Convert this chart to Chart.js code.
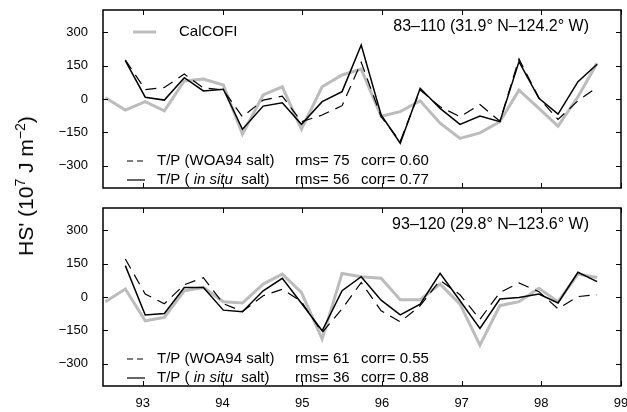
<!DOCTYPE html>
<html>
<head>
<meta charset="utf-8">
<script src="https://cdn.jsdelivr.net/npm/chart.js@4.4.1/dist/chart.umd.min.js"></script>
<style>
body { margin: 0; background: #fff; width: 627px; height: 412px; position: relative; overflow: hidden; font-family: "Liberation Sans", Arial, sans-serif; }
canvas { position: absolute; left: 0; }
#topPanel { top: 0; }
#botPanel { top: 198px; }
#ylab { position: absolute; left: 25px; top: 186px; transform: translate(-50%, -50%) rotate(-90deg); white-space: nowrap; font-size: 21px; color: #000; }
#ylab sup { font-size: 14px; }
</style>
</head>
<body>
<canvas id="topPanel" width="627" height="200"></canvas>
<canvas id="botPanel" width="627" height="214"></canvas>
<div id="ylab">HS' (10<sup>7</sup> J m<sup>−2</sup>)</div>
<script>
// cruise times (decimal year), shared by the T/P series
const cruiseYears = [92.78, 93.03, 93.27, 93.52, 93.76, 94.01, 94.25, 94.51, 94.75, 94.99, 95.25, 95.50, 95.74,
                     95.99, 96.23, 96.48, 96.73, 96.98, 97.23, 97.48, 97.72, 97.97, 98.21, 98.46, 98.70];
// CalCOFI has one extra cruise at the start
const calcofiYears = [92.53, 92.78, 93.03, 93.27, 93.52, 93.76, 94.01, 94.25, 94.51, 94.75, 94.99, 95.25, 95.50, 95.74,
                      95.99, 96.23, 96.48, 96.73, 96.98, 97.23, 97.48, 97.72, 97.97, 98.21, 98.46, 98.70];

const xTicks = [93, 94, 95, 96, 97, 98, 99];
const yTicks = [-300, -150, 0, 150, 300];

// station 83-110
const calcofi83 = [6, -50, -12, -53, 81, 90, 63, -158, 18, 55, -136, 55, 108, 134, -77, -57, -8, -109, -177, -152, -102, 40, -42, -122, 10, 161];
const woa83     = [176, 42, 52, 112, 50, 40, -80, -5, 13, -102, -72, -30, 165, -80, -190, 40, -35, -80, -25, -100, 180, 5, -92, -8, 52];
const insitu83  = [172, 8, -5, 96, 36, 44, -136, -32, -17, -114, -12, 33, 243, -72, -199, 48, -42, -114, -77, -102, 168, 3, -68, 78, 156];

// station 93-120
const calcofi93 = [-21, 36, -107, -92, 28, 43, -21, -27, 58, 103, 21, -189, 106, 91, 84, -12, -12, 58, -32, -216, -39, -21, 39, -21, 103, 88];
const woa93     = [171, 13, -30, 55, 87, -30, -65, 6, 35, -21, -160, -53, 65, -62, -112, -39, 75, 10, -100, 20, 63, 24, -53, 2, 10];
const insitu93  = [141, -81, -74, 43, 43, -59, -66, 28, 84, -28, -152, 28, 91, -14, -80, -32, 106, -17, -141, -9, -2, 13, -27, 111, 69];

const FONT = '"Liberation Sans", Arial, sans-serif';

function toPoints(xs, ys) {
    return ys.map((v, i) => ({ x: xs[i], y: v }));
}

function minusSign(v) {
    return v < 0 ? '\u2212' + Math.abs(v) : String(v);
}

function noPad(s) {
    s.paddingTop = 0; s.paddingBottom = 0; s.paddingLeft = 0; s.paddingRight = 0;
}

function decoPlugin(info) {
    return {
        id: 'deco',
        afterDatasetsDraw(chart) {
            const ctx = chart.ctx;
            const a = chart.chartArea;
            const xs = chart.scales.x, ys = chart.scales.y;
            ctx.save();
            ctx.strokeStyle = '#000';
            ctx.lineWidth = 1.5;
            ctx.strokeRect(a.left, a.top, a.right - a.left, a.bottom - a.top);

            // inward ticks on all four sides
            ctx.lineWidth = 1;
            ctx.beginPath();
            yTicks.forEach(v => {
                const y = Math.round(ys.getPixelForValue(v)) + 0.5;
                ctx.moveTo(a.left, y); ctx.lineTo(a.left + 5, y);
                ctx.moveTo(a.right, y); ctx.lineTo(a.right - 5, y);
            });
            xTicks.forEach(v => {
                const x = Math.round(xs.getPixelForValue(v)) + 0.5;
                ctx.moveTo(x, a.bottom); ctx.lineTo(x, a.bottom - 5);
                ctx.moveTo(x, a.top); ctx.lineTo(x, a.top + 5);
            });
            ctx.stroke();

            ctx.fillStyle = '#000';
            ctx.textBaseline = 'middle';

            // station title
            ctx.font = '16px ' + FONT;
            ctx.textAlign = 'right';
            ctx.fillText(info.title, 589, a.top + 17);
            ctx.textAlign = 'left';

            // CalCOFI legend (top panel only)
            if (info.showCalcofi) {
                ctx.strokeStyle = '#bcbcbc';
                ctx.lineWidth = 3;
                ctx.beginPath();
                ctx.moveTo(133, a.top + 22); ctx.lineTo(156, a.top + 22);
                ctx.stroke();
                ctx.font = '15px ' + FONT;
                ctx.fillText('CalCOFI', 179, a.top + 22);
            }

            // T/P legend rows
            const r1 = a.top + 151, r2 = a.top + 170;
            ctx.strokeStyle = '#000';
            ctx.lineWidth = 1.2;
            ctx.setLineDash([6, 4]);
            ctx.beginPath(); ctx.moveTo(127, r1); ctx.lineTo(145, r1); ctx.stroke();
            ctx.setLineDash([]);
            ctx.beginPath(); ctx.moveTo(127, r2); ctx.lineTo(145, r2); ctx.stroke();

            ctx.font = '15px ' + FONT;
            ctx.fillText('T/P (WOA94 salt)', 157, r1);
            let x = 157;
            ctx.fillText('T/P ( ', x, r2);
            x += ctx.measureText('T/P ( ').width;
            ctx.font = 'italic 15px ' + FONT;
            ctx.fillText('in situ', x, r2);
            x += ctx.measureText('in situ').width;
            ctx.font = '15px ' + FONT;
            ctx.fillText('  salt)', x, r2);

            ctx.fillText('rms= ' + info.rms[0], 295, r1);
            ctx.fillText('rms= ' + info.rms[1], 295, r2);
            ctx.fillText('corr= ' + info.corr[0], 361, r1);
            ctx.fillText('corr= ' + info.corr[1], 361, r2);
            ctx.restore();
        }
    };
}

function makePanel(id, calcofi, woa, insitu, info) {
    const ctx = document.getElementById(id).getContext('2d');
    return new Chart(ctx, {
        type: 'line',
        data: {
            datasets: [
                {
                    label: 'T/P (in situ salt)',
                    data: toPoints(cruiseYears, insitu),
                    borderColor: '#000',
                    borderWidth: 1.5,
                    order: 0
                },
                {
                    label: 'T/P (WOA94 salt)',
                    data: toPoints(cruiseYears, woa),
                    borderColor: '#000',
                    borderWidth: 1.2,
                    borderDash: [11, 7],
                    order: 1
                },
                {
                    label: 'CalCOFI',
                    data: toPoints(calcofiYears, calcofi),
                    borderColor: '#bcbcbc',
                    borderWidth: 3,
                    order: 2
                }
            ]
        },
        options: {
            responsive: false,
            animation: false,
            devicePixelRatio: 1,
            layout: { autoPadding: false, padding: { left: 0, right: 6, top: 10, bottom: 0 } },
            elements: { point: { radius: 0 }, line: { tension: 0, borderJoinStyle: 'miter' } },
            plugins: { legend: { display: false }, tooltip: { enabled: false } },
            scales: {
                x: {
                    type: 'linear',
                    min: 92.5,
                    max: 99,
                    grid: { display: false, drawTicks: false },
                    border: { display: false },
                    afterBuildTicks: s => { s.ticks = xTicks.map(v => ({ value: v })); },
                    afterFit: s => { s.height = info.xAxisHeight; noPad(s); },
                    ticks: { display: info.showX, padding: 10, color: '#000', font: { size: 13, family: FONT } }
                },
                y: {
                    min: -400,
                    max: 400,
                    grid: { display: false, drawTicks: false },
                    border: { display: false },
                    afterBuildTicks: s => { s.ticks = yTicks.map(v => ({ value: v })); },
                    afterFit: s => { s.width = 103; noPad(s); },
                    ticks: { padding: 15, color: '#000', font: { size: 13, family: FONT }, callback: v => minusSign(v) }
                }
            }
        },
        plugins: [decoPlugin(info)]
    });
}

makePanel('topPanel', calcofi83, woa83, insitu83, {
    title: '83\u2013110 (31.9\u00b0 N\u2013124.2\u00b0 W)',
    rms: [75, 56], corr: ['0.60', '0.77'],
    showCalcofi: true, showX: false, xAxisHeight: 12
});

makePanel('botPanel', calcofi93, woa93, insitu93, {
    title: '93\u2013120 (29.8\u00b0 N\u2013123.6\u00b0 W)',
    rms: [61, 36], corr: ['0.55', '0.88'],
    showCalcofi: false, showX: true, xAxisHeight: 26
});
</script>
</body>
</html>
